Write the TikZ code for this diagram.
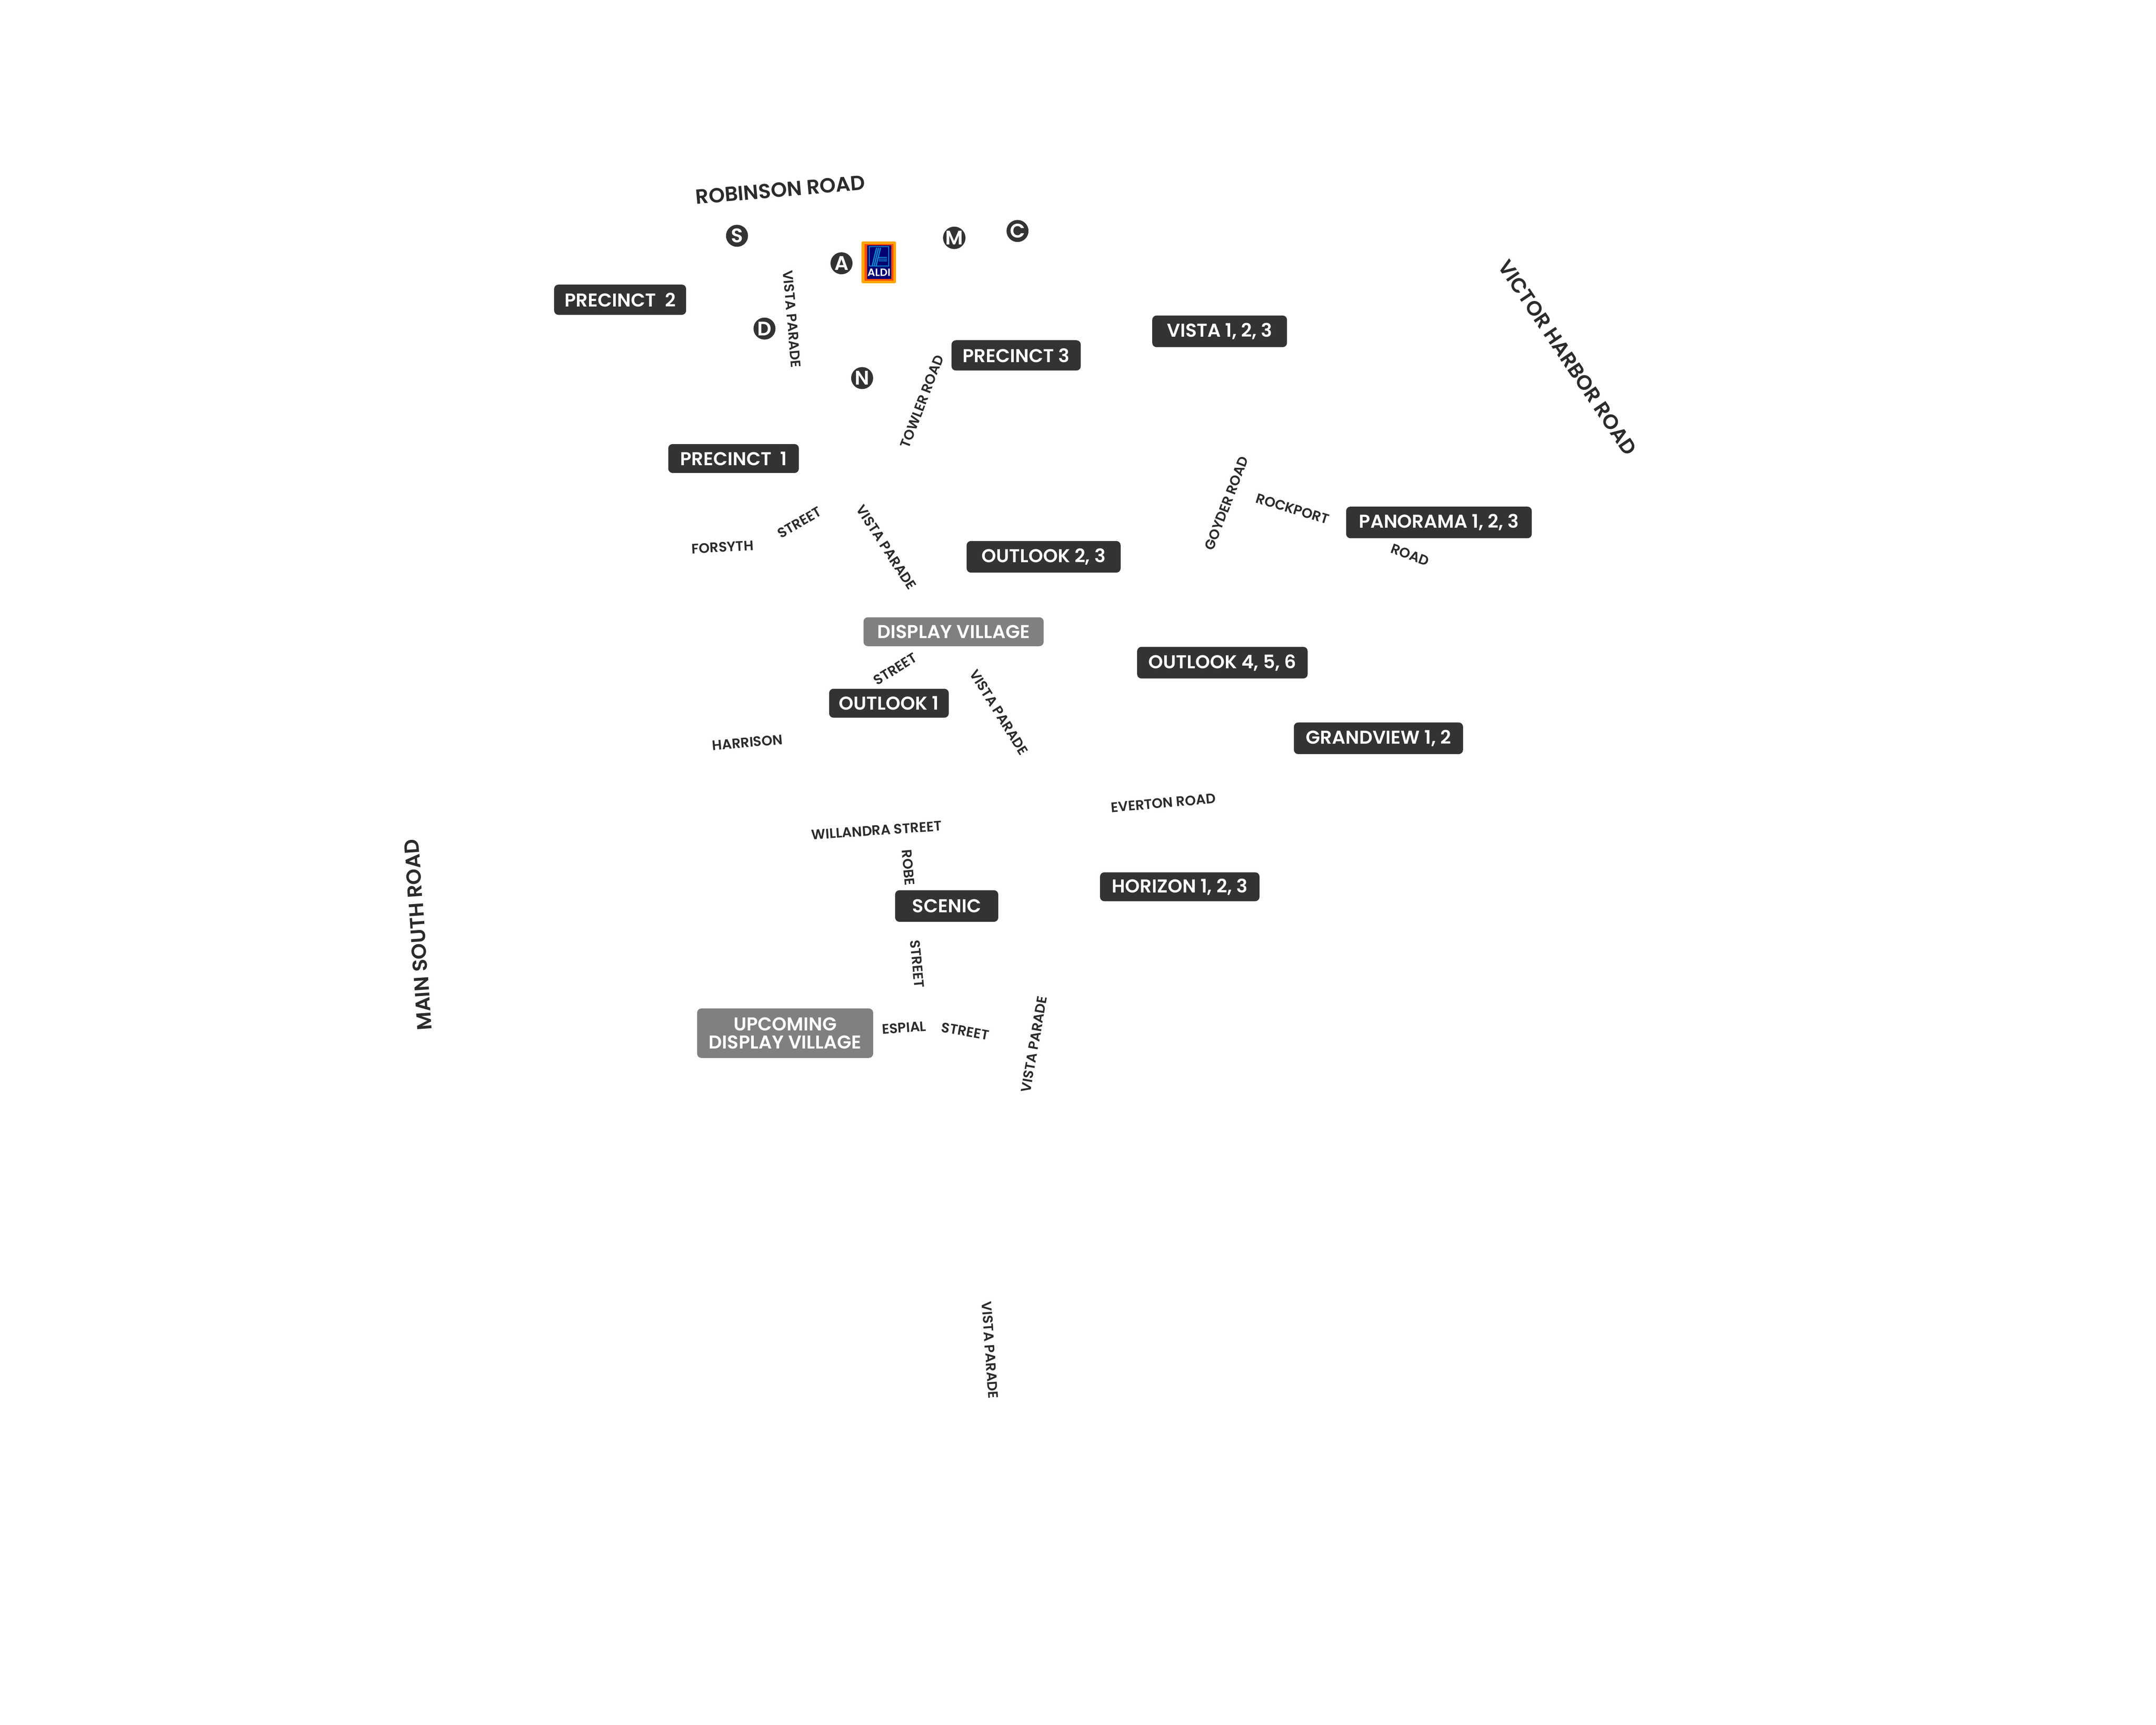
\documentclass[tikz,border=0pt]{standalone}
\usepackage{fontspec}
\setmainfont{Poppins}[BoldFont={Poppins SemiBold}]
\def\u{.3189mm}
\definecolor{plate}{HTML}{333333}
\definecolor{platelight}{HTML}{808080}
\definecolor{roadink}{HTML}{2B2B2B}
\tikzset{
	precinct/.style={fill=plate, text=white, rounded corners=.1cm, inner sep=0pt, align=center, font=\fontsize{12.3}{11.8}\selectfont\bfseries},
	village/.style={precinct, fill=platelight},
	mainroad/.style={text=roadink, inner sep=0pt, font=\fontsize{13.5}{14}\selectfont\bfseries},
	street/.style={text=roadink, inner sep=0pt, font=\fontsize{9.1}{10}\selectfont\bfseries},
	stop/.style={circle, fill=plate, text=white, inner sep=0pt, minimum size=16*\u, font=\fontsize{13}{13}\selectfont\bfseries}
}

\begin{document}
\begin{tikzpicture}[x=\u, y=-\u]
\useasboundingbox (0,0) rectangle (1568,1254.4);

\node[precinct, minimum width=96*\u, minimum height=22*\u] (precinct2) at (451,218) {PRECINCT\ \ 2};
\node[precinct, minimum width=94*\u, minimum height=22*\u] (precinct3) at (739,258.5) {PRECINCT 3};
\node[precinct, minimum width=98*\u, minimum height=23*\u] (vista) at (887,241) {VISTA 1, 2, 3};
\node[precinct, minimum width=95*\u, minimum height=21*\u] (precinct1) at (533.5,333.5) {PRECINCT\ \ 1};
\node[precinct, minimum width=135*\u, minimum height=23*\u] (panorama) at (1046.5,380) {PANORAMA 1, 2, 3};
\node[precinct, minimum width=112*\u, minimum height=23*\u] (outlookB) at (759,405) {OUTLOOK 2, 3};
\node[village, minimum width=131*\u, minimum height=21*\u] (display) at (693.5,459.5) {DISPLAY VILLAGE};
\node[precinct, minimum width=124*\u, minimum height=23*\u] (outlookC) at (889,482) {OUTLOOK 4, 5, 6};
\node[precinct, minimum width=87*\u, minimum height=21*\u] (outlookA) at (646.5,511.5) {OUTLOOK 1};
\node[precinct, minimum width=123*\u, minimum height=23*\u] (grandview) at (1002.5,537) {GRANDVIEW 1, 2};
\node[precinct, minimum width=116*\u, minimum height=21*\u] (horizon) at (858,645) {HORIZON 1, 2, 3};
\node[precinct, minimum width=75*\u, minimum height=23*\u] (scenic) at (688.5,659) {SCENIC};
\node[village, minimum width=128*\u, minimum height=36*\u] (upcoming) at (571,751.5) {UPCOMING\\DISPLAY VILLAGE};

\node[mainroad, rotate=5] (robinson) at (567.5,138) {ROBINSON ROAD};
\node[mainroad, rotate=-56] (victor) at (1140,260) {VICTOR HARBOR ROAD};
\node[mainroad, rotate=94] (mainsouth) at (304,680) {MAIN SOUTH ROAD};

\node[street, rotate=-85] (vistaA) at (576,232) {VISTA PARADE};
\node[street, rotate=69] (towler) at (670.5,292) {TOWLER ROAD};
\node[street, rotate=30] (streetA) at (581.5,380) {STREET};
\node[street, rotate=3] (forsyth) at (525.5,398) {FORSYTH};
\node[street, rotate=-57] (vistaB) at (644.5,398) {VISTA PARADE};
\node[street, rotate=69] (goyder) at (892,366) {GOYDER ROAD};
\node[street, rotate=-17] (rockport) at (940,370) {ROCKPORT};
\node[street, rotate=-20] (roadA) at (1025.5,403.5) {ROAD};
\node[street, rotate=32] (streetB) at (651,486.5) {STREET};
\node[street, rotate=-58] (vistaC) at (726.5,518) {VISTA PARADE};
\node[street, rotate=5] (harrison) at (543.5,540) {HARRISON};
\node[street, rotate=5] (everton) at (846,584) {EVERTON ROAD};
\node[street, rotate=4] (willandra) at (637.5,604) {WILLANDRA STREET};
\node[street, rotate=-85] (robe) at (660.5,631) {ROBE};
\node[street, rotate=-85] (streetC) at (667,701) {STREET};
\node[street, rotate=4] (espial) at (657.5,747.5) {ESPIAL};
\node[street, rotate=-10] (streetD) at (702,750) {STREET};
\node[street, rotate=80] (vistaD) at (752,759.5) {VISTA PARADE};
\node[street, rotate=-86] (vistaE) at (720,982) {VISTA PARADE};

\foreach \n/\x/\y in {S/536/171.5, A/612/191.5, M/694/173, C/740/168, D/556/239, N/627/275}{
	\node[stop] (stop\n) at (\x,\y) {\n};
}

% aldi logo, units are pixels of the image
\begin{scope}[x=.1mm, y=-.1mm]
\fill[orange!70!yellow, rounded corners=.03cm] (1998,560) rectangle (2078,657);
\fill[orange!60!red] (2005,566) rectangle (2072,651);
\fill[blue!45!black] (2011,569) rectangle (2067,647);
\draw[cyan!70!blue, line width=.5pt] (2016,572) rectangle (2061,617);
\foreach \x in {0,4.5,9}{
	\draw[cyan!70!blue, line width=.8pt] (2033+\x,575) -- (2023+\x,616);
}
\foreach \y in {597,601,605}{
	\draw[cyan!70!blue, line width=.8pt] (2038,\y) -- (2057,\y);
}
\node[text=white, inner sep=0pt, font=\fontsize{7}{7}\selectfont\bfseries] (aldi) at (2038.5,632) {ALDI};
\end{scope}
\end{tikzpicture}
\end{document}
